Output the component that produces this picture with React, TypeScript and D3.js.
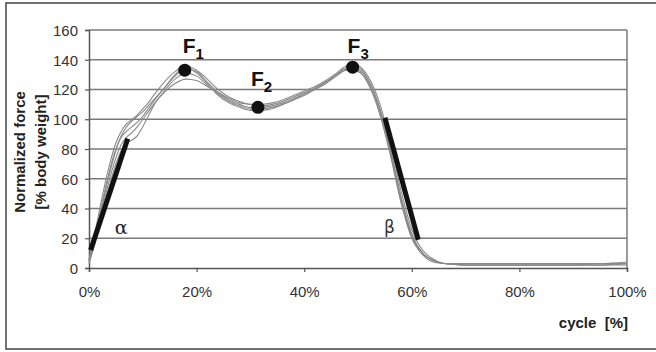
import * as d3 from "d3";
import { useEffect, useRef } from "react";

// cycle positions (%)
const cycle = [0, 1, 2, 3, 4, 5, 6, 7, 8, 9, 10, 11, 12, 14, 16, 18, 20, 22, 24, 26, 28, 30, 32, 34, 36, 38, 40, 42, 44, 46, 48, 50, 52, 54, 56, 58, 60, 62, 64, 66, 70, 80, 90, 95, 100];

// normalized force traces (% body weight), one per trial
const trialA = [5, 19, 35, 51, 66, 79, 89, 95, 99, 102, 105, 109, 113, 121, 129, 134, 132, 125, 118, 113, 110, 108, 108, 109, 111, 114, 117, 120, 124, 129, 134, 135, 126, 108, 80, 48, 23, 10, 5, 3, 2, 2, 2, 2, 3];
const trialB = [6, 22, 40, 57, 72, 84, 92, 97, 100, 103, 107, 111, 116, 125, 132, 136, 133, 127, 120, 115, 112, 110, 110, 111, 113, 116, 119, 122, 126, 131, 136, 136, 128, 111, 84, 52, 26, 12, 6, 3, 2, 2, 2, 3, 3];
const trialC = [3, 15, 30, 45, 58, 70, 79, 84, 86, 89, 95, 102, 109, 119, 127, 131, 129, 123, 117, 112, 109, 107, 107, 108, 110, 113, 116, 120, 124, 130, 134, 133, 123, 104, 76, 44, 20, 9, 4, 3, 2, 2, 2, 2, 3];
const trialD = [4, 17, 33, 48, 62, 74, 83, 88, 91, 95, 100, 105, 110, 118, 124, 127, 126, 122, 118, 114, 111, 110, 109, 110, 112, 115, 118, 121, 125, 130, 133, 132, 124, 106, 78, 45, 21, 10, 5, 3, 3, 3, 3, 3, 4];
const trialE = [5, 18, 36, 53, 68, 80, 88, 92, 95, 98, 102, 107, 112, 121, 130, 135, 131, 124, 116, 111, 108, 106, 106, 107, 110, 113, 117, 121, 125, 130, 135, 134, 125, 107, 79, 47, 22, 10, 5, 3, 2, 2, 2, 2, 2];
const trials = [trialA, trialB, trialC, trialD, trialE];

// loading (alpha) and unloading (beta) slopes: [cycle, force]
const alphaLine = [[0.3, 12], [7.2, 87]];
const betaLine = [[55, 101], [61.2, 19]];

// characteristic force peaks
const peakNames = ["F", "F", "F"];
const peakSubs = ["1", "2", "3"];
const peakCycle = [17.8, 31.4, 49];
const peakForce = [133, 108, 135];

const yTicks = [0, 20, 40, 60, 80, 100, 120, 140, 160];
const xTicks = [0, 20, 40, 60, 80, 100];

export default function App() {
  const ref = useRef<SVGSVGElement>(null);

  const width = 656;
  const height = 352;
  const margin = { top: 30, right: 29, bottom: 84, left: 89 };
  const innerW = width - margin.left - margin.right;
  const innerH = height - margin.top - margin.bottom;

  useEffect(() => {
    const svg = d3.select(ref.current);
    svg.selectAll("*").remove();

    const x = d3.scaleLinear().domain([0, 100]).range([margin.left, margin.left + innerW]);
    const y = d3.scaleLinear().domain([0, 160]).range([margin.top + innerH, margin.top]);
    const font = "'Liberation Sans', Arial, sans-serif";

    // outer frame
    svg.append("rect")
      .attr("x", 6).attr("y", 3)
      .attr("width", 652).attr("height", 346)
      .attr("fill", "white")
      .attr("stroke", "#444")
      .attr("stroke-width", 1.5);

    // gridlines
    svg.append("g")
      .selectAll("line")
      .data(yTicks.filter(t => t > 0))
      .join("line")
      .attr("x1", x(0)).attr("x2", x(100))
      .attr("y1", d => y(d)).attr("y2", d => y(d))
      .attr("stroke", "#7a7a7a")
      .attr("stroke-width", 1.5);

    // right edge of plot
    svg.append("line")
      .attr("x1", x(100)).attr("x2", x(100))
      .attr("y1", y(160)).attr("y2", y(0))
      .attr("stroke", "#7a7a7a")
      .attr("stroke-width", 1.5);

    // axes
    const yAxis = d3.axisLeft(y).tickValues(yTicks).tickSize(4).tickFormat(d3.format("d"));
    const gy = svg.append("g").attr("transform", `translate(${x(0)},0)`).call(yAxis);
    const xAxis = d3.axisBottom(x).tickValues(xTicks).tickSize(4).tickFormat(d => `${d}%`);
    const gx = svg.append("g").attr("transform", `translate(0,${y(0)})`).call(xAxis);

    [gx, gy].forEach(g => {
      g.select(".domain").attr("stroke", "#555").attr("stroke-width", 1.5);
      g.selectAll(".tick line").attr("stroke", "#555").attr("stroke-width", 1.2);
      g.selectAll("text")
        .attr("font-family", font)
        .attr("font-size", 15)
        .attr("fill", "#333");
    });
    gy.selectAll("text").attr("x", -11).attr("dy", "0.36em");
    gx.selectAll("text").attr("y", 18);

    // trial traces
    const line = d3.line<number>()
      .x((_, i) => x(cycle[i]))
      .y(d => y(d))
      .curve(d3.curveMonotoneX);

    svg.append("g")
      .selectAll("path")
      .data(trials)
      .join("path")
      .attr("d", d => line(d))
      .attr("fill", "none")
      .attr("stroke", "#8a8a8a")
      .attr("stroke-width", 1.1);

    // slopes
    const seg = d3.line<number[]>().x(d => x(d[0])).y(d => y(d[1]));
    [alphaLine, betaLine].forEach(s => {
      svg.append("path")
        .attr("d", seg(s))
        .attr("stroke", "#111")
        .attr("stroke-width", 5)
        .attr("fill", "none");
    });

    svg.append("text")
      .attr("x", x(alphaLine[1][0]) - 13).attr("y", y(alphaLine[0][1]) - 16)
      .attr("font-family", "'DejaVu Serif', serif")
      .attr("font-size", 19)
      .attr("fill", "#222")
      .text("α");
    svg.append("text")
      .attr("x", x(betaLine[0][0]) - 1).attr("y", y(betaLine[1][1]) - 7)
      .attr("font-family", "'DejaVu Sans', sans-serif")
      .attr("font-size", 17)
      .attr("fill", "#333")
      .text("β");

    // peaks
    const labelOffset = [[-2, -17], [-7, -21], [-5, -14]];
    peakCycle.forEach((c, i) => {
      svg.append("circle")
        .attr("cx", x(c)).attr("cy", y(peakForce[i]))
        .attr("r", 6.5)
        .attr("fill", "#111");
      const t = svg.append("text")
        .attr("x", x(c) + labelOffset[i][0])
        .attr("y", y(peakForce[i]) + labelOffset[i][1])
        .attr("font-family", font)
        .attr("font-weight", "bold")
        .attr("font-size", 21)
        .attr("fill", "#111");
      t.append("tspan").text(peakNames[i]);
      t.append("tspan").attr("font-size", 15).attr("dy", 6).text(peakSubs[i]);
    });

    // axis titles
    const cy = margin.top + innerH / 2 + 3;
    const yTitle = svg.append("text")
      .attr("transform", `translate(25,${cy}) rotate(-90)`)
      .attr("text-anchor", "middle")
      .attr("font-family", font)
      .attr("font-weight", "bold")
      .attr("font-size", 15)
      .attr("fill", "#222");
    yTitle.append("tspan").attr("x", 0).attr("y", 0).text("Normalized force");
    yTitle.append("tspan").attr("x", 0).attr("y", 21).text("[% body weight]");

    svg.append("text")
      .attr("x", x(100) + 1).attr("y", 328)
      .attr("text-anchor", "end")
      .attr("font-family", font)
      .attr("font-weight", "bold")
      .attr("font-size", 15)
      .attr("fill", "#222")
      .attr("xml:space", "preserve")
      .text("cycle  [%]");
  }, []);

  return (
    <svg
      ref={ref}
      width={width}
      height={height}
      style={{ position: "absolute", left: 0, top: 0, display: "block", background: "white" }}
    />
  );
}
